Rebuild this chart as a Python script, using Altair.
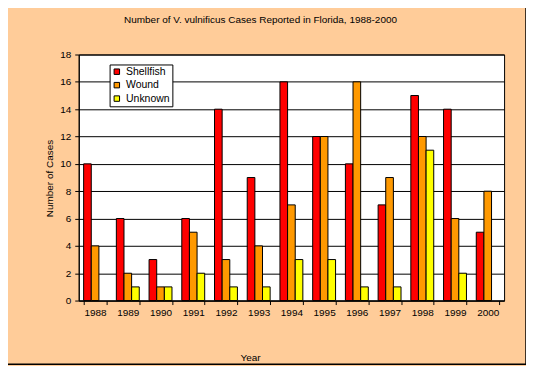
import altair as alt
import pandas as pd

years = ["1988", "1989", "1990", "1991", "1992", "1993", "1994",
         "1995", "1996", "1997", "1998", "1999", "2000"]
series_names = ["Shellfish", "Wound", "Unknown"]
shellfish = [10, 6, 3, 6, 14, 9, 16, 12, 10, 7, 15, 14, 5]
wound = [4, 2, 1, 5, 3, 4, 7, 12, 16, 9, 12, 6, 8]
unknown = [0, 1, 1, 2, 1, 1, 3, 3, 1, 1, 11, 2, 0]
colors = ["#FF0000", "#FF9900", "#FFFF00"]
y_ticks = list(range(0, 19, 2))

rows = []
for name, vals in zip(series_names, [shellfish, wound, unknown]):
    for yr, v in zip(years, vals):
        rows.append({"year": yr, "series": name, "value": v})
df = pd.DataFrame(rows)

FONT = "Liberation Sans"
W, H = 427, 247

bars = alt.Chart(df).transform_filter("datum.value > 0").mark_bar(
    stroke="black", strokeWidth=1
).encode(
    x=alt.X("year:N", sort=years,
            scale=alt.Scale(paddingInner=0.3, paddingOuter=0.15),
            axis=alt.Axis(title="Year", labelAngle=0, tickBand="extent",
                          tickSize=4, labelPadding=3, domainColor="black",
                          tickColor="black", labelColor="black",
                          labelFontSize=10, titleFontSize=10,
                          titleFontWeight="normal", titleX=172, titleY=57,
                          titleBaseline="middle", titleAnchor="start",
                          titleAlign="center")),
    xOffset=alt.XOffset("series:N",
                        scale=alt.Scale(domain=series_names, paddingInner=0, paddingOuter=0)),
    y=alt.Y("value:Q",
            scale=alt.Scale(domain=[0, 18], nice=False),
            axis=alt.Axis(title="Number of Cases", values=y_ticks, grid=True,
                          gridColor="black", gridWidth=1, gridOpacity=1,
                          tickSize=4, labelPadding=4, domainColor="black",
                          tickColor="black", labelColor="black",
                          labelFontSize=10, titleFontSize=10,
                          titleFontWeight="normal", titleX=-29, titleY=124,
                          titleAnchor="start", titleAlign="center",
                          titleBaseline="middle", titleAngle=-90)),
    color=alt.Color("series:N",
                    scale=alt.Scale(domain=series_names, range=colors),
                    legend=alt.Legend(title=None, orient="none", legendX=31, legendY=10,
                                      fillColor="white", strokeColor="black",
                                      padding=2, rowPadding=2.5, symbolType="square",
                                      symbolSize=30, symbolStrokeColor="black",
                                      symbolStrokeWidth=1, symbolOpacity=1,
                                      labelFontSize=10.5, labelOffset=4,
                                      labelColor="black", labelFont=FONT)),
)

frame = alt.Chart(pd.DataFrame({"a": [0]})).mark_rect(
    filled=False, stroke="black", strokeWidth=1.5
).encode(x=alt.value(-73), x2=alt.value(449), y=alt.value(-49), y2=alt.value(311))

chart = alt.layer(frame, bars).properties(
    width=W, height=H,
    title=alt.TitleParams("Number of V. vulnificus Cases Reported in Florida, 1988-2000",
                          fontSize=10, fontWeight="normal", font=FONT, color="black",
                          anchor="middle", dx=-31, dy=12, offset=-13, baseline="middle"),
    autosize=alt.AutoSizeParams(type="none"),
    padding={"left": 71, "top": 46, "right": 22, "bottom": 65},
    background="#FFCC99",
).configure_view(
    fill="white", stroke="black", strokeWidth=1
).configure_axis(
    labelFont=FONT, titleFont=FONT
)

chart.save("out.html", embed_options={"renderer": "svg", "actions": False})
